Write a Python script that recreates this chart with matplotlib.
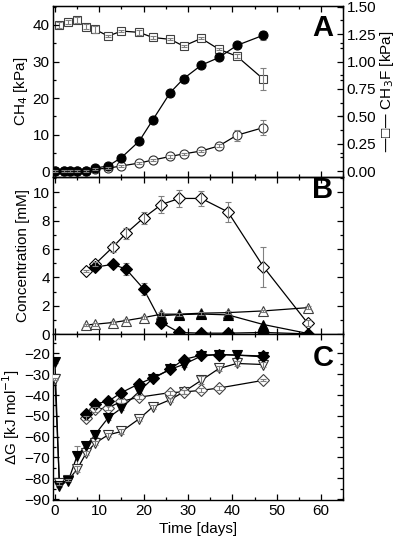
import matplotlib
matplotlib.use("Agg")
import matplotlib.pyplot as plt
from matplotlib.ticker import MultipleLocator

plt.rcParams['font.family'] = ['Liberation Sans', 'DejaVu Sans']
plt.rcParams['font.size'] = 11

# ---------------- Panel A data ----------------
days_ch3f = [1, 3, 5, 7, 9, 12, 15, 19, 22, 26, 29, 33, 37, 41, 47]
ch3f = [1.333, 1.36, 1.379, 1.318, 1.294, 1.232, 1.278, 1.266, 1.220, 1.202, 1.141, 1.211, 1.111, 1.049, 0.839]
ch3f_err = [0.03, 0.02, 0.03, 0.02, 0.03, 0.01, 0.01, 0.02, 0.01, 0.01, 0.01, 0.01, 0.01, 0.02, 0.1]

days_ch4 = [0, 2, 3.5, 5, 7, 9, 12, 15, 19, 22, 26, 29, 33, 37, 41, 47]
ch4_filled = [0, 0, 0, 0, 0.1, 0.8, 1.4, 3.7, 8.2, 13.9, 21.5, 25.3, 29.0, 31.1, 34.4, 37.2]
ch4_filled_err = [0, 0, 0, 0, 0.2, 0.3, 0.3, 0.3, 0.4, 0.4, 0.5, 0.5, 0.5, 0.6, 0.8, 1.2]
ch4_open = [0, 0, 0, 0, 0.1, 0.5, 0.8, 1.4, 2.2, 3.0, 4.0, 4.7, 5.5, 6.9, 9.8, 11.9]
ch4_open_err = [0.2, 0.2, 0.2, 0.2, 0.3, 0.3, 0.3, 0.3, 0.3, 0.3, 0.3, 0.3, 0.3, 0.4, 1.5, 2.0]

# ---------------- Panel B data ----------------
days_b = [7, 9, 13, 16, 20, 24, 28, 33, 39, 47, 57]
diam_open_b = [4.46, 4.93, 6.13, 7.11, 8.21, 9.15, 9.58, 9.58, 8.63, 4.76, 0.77]
diam_open_b_err = [0.1, 0.15, 0.3, 0.4, 0.4, 0.6, 0.6, 0.5, 0.7, 1.4, 0.2]
days_b_fd = [9, 13, 16, 20, 24, 28, 33, 39, 47, 57]
diam_filled_b = [4.72, 4.93, 4.6, 3.19, 0.82, 0.12, 0.07, 0.07, 0.12, 0.02]
diam_filled_b_err = [0.1, 0.15, 0.45, 0.4, 0.1, 0.05, 0.05, 0.05, 0.05, 0.02]
tri_open_b = [0.65, 0.70, 0.82, 0.96, 1.17, 1.41, 1.41, 1.48, 1.52, 1.64, 1.87]
tri_open_b_err = [0.1, 0.1, 0.1, 0.1, 0.1, 0.15, 0.1, 0.1, 0.1, 0.1, 0.1]
days_b_ft = [24, 28, 33, 39, 47, 57]
tri_filled_b = [1.30, 1.38, 1.42, 1.36, 0.68, 0.05]

# ---------------- Panel C data ----------------
days_c = [0, 1, 3, 5, 7, 9, 12, 15, 19, 22, 26, 29, 33, 37, 41, 47]
tri_filled_c = [-24.0, -83.6, -81.2, -69.1, -64.3, -59.1, -50.9, -46.3, -38.2, -32.1, -27.6, -25.3, -21.2, -20.5, -20.8, -21.6]
tri_filled_c_err = [0.5, 0.5, 0.5, 4.5, 1.0, 1.0, 1.0, 1.0, 1.0, 1.0, 1.0, 1.0, 0.8, 0.8, 0.8, 0.8]
tri_open_c = [-32.1, -82.5, -80.9, -75.6, -68.0, -63.2, -59.1, -57.5, -51.4, -45.8, -42.2, -38.5, -32.9, -27.2, -24.8, -25.3]
tri_open_c_err = [0.5, 0.5, 0.5, 1.5, 1.0, 1.0, 1.0, 1.0, 1.0, 1.0, 1.0, 1.0, 2.0, 1.0, 1.0, 1.0]
days_c_fd = [7, 9, 12, 15, 19, 22, 26, 29, 33, 37, 47]
diam_filled_c = [-49.0, -44.2, -43.0, -38.8, -34.5, -31.8, -27.6, -22.9, -20.8, -20.5, -21.2]
days_c_od = [7, 9, 12, 15, 19, 26, 29, 33, 37, 47]
diam_open_c = [-50.9, -46.9, -46.1, -43.0, -41.0, -38.8, -38.5, -37.7, -36.6, -32.9]
diam_open_c_err = [1.0, 1.0, 1.0, 1.0, 1.0, 1.0, 1.0, 1.0, 0.8, 0.5]

ERR_C = '#808080'

fig = plt.figure(figsize=(4.0, 5.46), dpi=100)
L, W = 0.133, 0.725
axA = fig.add_axes([L, 0.676, W, 0.313])
axB = fig.add_axes([L, 0.388, W, 0.288])
axC = fig.add_axes([L, 0.084, W, 0.304])


def series(ax, x, y, err=None, marker='o', filled=False, ms=6.5, ec='black', lw=0.9, z=3):
    ax.plot(x, y, '-', color='black', lw=lw, zorder=z)
    ax.plot(x, y, linestyle='none', marker=marker, ms=ms,
            mfc='black' if filled else 'white', mec=ec, mew=0.8, zorder=z + 2)
    if err is not None:
        ax.errorbar(x, y, yerr=err, fmt='none', ecolor=ERR_C, elinewidth=0.8,
                    capsize=2.2, capthick=0.8, zorder=(z + 1 if filled else z + 3))


def style(ax, xlabels=False):
    ax.set_xlim(-0.4, 65)
    ax.xaxis.set_major_locator(MultipleLocator(10))
    ax.xaxis.set_minor_locator(MultipleLocator(5))
    ax.tick_params(which='both', direction='in', top=True, right=True, width=0.9)
    ax.tick_params(which='major', length=4)
    ax.tick_params(which='minor', length=2.2)
    if not xlabels:
        ax.tick_params(labelbottom=False)
    for s in ax.spines.values():
        s.set_linewidth(1.0)


# Panel A
axA2 = axA.twinx()
axA.set_zorder(axA2.get_zorder() + 1)
axA.patch.set_visible(False)
series(axA2, days_ch3f, ch3f, ch3f_err, marker='s', ms=5.5, ec='#404040')
series(axA, days_ch4, ch4_open, ch4_open_err, marker='o', ms=6.5, ec='#303030')
series(axA, days_ch4, ch4_filled, ch4_filled_err, marker='o', filled=True, ms=6.5)
style(axA)
axA.tick_params(right=False)
axA.set_ylim(-1.6, 45.2)
axA.yaxis.set_major_locator(MultipleLocator(10))
axA.yaxis.set_minor_locator(MultipleLocator(5))
axA2.set_ylim(-1.6 / 30, 45.2 / 30)
axA2.yaxis.set_major_locator(MultipleLocator(0.25))
axA2.yaxis.set_minor_locator(MultipleLocator(0.125))
axA2.yaxis.set_major_formatter(matplotlib.ticker.FormatStrFormatter('%.2f'))
axA2.tick_params(which='both', direction='in', width=0.9)
axA2.tick_params(which='major', length=4)
axA2.tick_params(which='minor', length=2.2)
axA.set_ylabel('CH$_4$ [kPa]', labelpad=2)
axA2.set_ylabel('\u2014\u25a1\u2014 CH$_3$F [kPa]', labelpad=1, rotation=90)
axA.text(0.93, 0.87, 'A', transform=axA.transAxes, fontsize=21, fontweight='bold',
         ha='center', va='center')

# Panel B
series(axB, days_b, diam_open_b, diam_open_b_err, marker='D', ms=6)
series(axB, days_b, tri_open_b, tri_open_b_err, marker='^', ms=6.5, ec='#404040')
series(axB, days_b_ft, tri_filled_b, None, marker='^', filled=True, ms=6.5)
series(axB, days_b_fd, diam_filled_b, diam_filled_b_err, marker='D', filled=True, ms=6)
style(axB)
axB.set_ylim(0, 11.1)
axB.yaxis.set_major_locator(MultipleLocator(2))
axB.yaxis.set_minor_locator(MultipleLocator(1))
axB.set_ylabel('Concentration [mM]', labelpad=2)
axB.text(0.93, 0.915, 'B', transform=axB.transAxes, fontsize=21, fontweight='bold',
         ha='center', va='center')

# Panel C
series(axC, days_c, tri_open_c, tri_open_c_err, marker='v', ms=6.5, ec='#303030')
series(axC, days_c_od, diam_open_c, diam_open_c_err, marker='D', ms=6, ec='#404040')
series(axC, days_c, tri_filled_c, tri_filled_c_err, marker='v', filled=True, ms=6.5)
series(axC, days_c_fd, diam_filled_c, None, marker='D', filled=True, ms=6)
style(axC, xlabels=True)
axC.set_ylim(-90.5, -10.7)
axC.yaxis.set_major_locator(MultipleLocator(10))
axC.yaxis.set_minor_locator(MultipleLocator(5))
axC.set_ylabel('\u0394G [kJ mol$^{-1}$]', labelpad=1)
axC.set_xlabel('Time [days]', labelpad=3)
axC.text(0.93, 0.855, 'C', transform=axC.transAxes, fontsize=21, fontweight='bold',
         ha='center', va='center')

for ax in (axA, axB, axC, axA2):
    ax.tick_params(axis='both', pad=2.5)

fig.savefig('out.png', dpi=100)
